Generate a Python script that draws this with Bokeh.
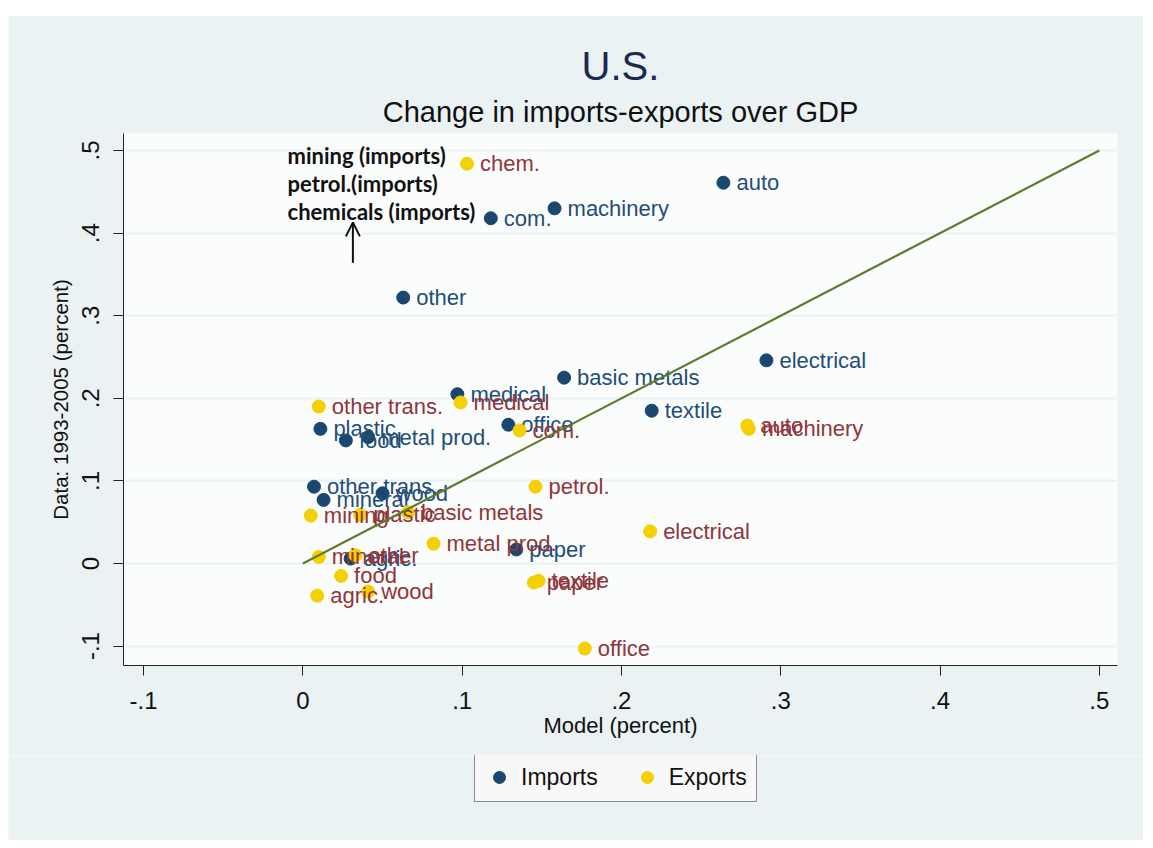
from bokeh.plotting import figure
from bokeh.layouts import column
from bokeh.models import (ColumnDataSource, FixedTicker, Legend, LegendItem, Title,
                          Label, Arrow, OpenHead, Range1d)
from bokeh.core.properties import value
from bokeh.embed import file_html
from bokeh.resources import INLINE

# ---- data ----
imp_names = ["auto", "machinery", "com.", "other", "electrical", "basic metals", "medical",
             "textile", "office", "plastic", "food", "metal prod.", "other trans.", "mineral",
             "wood", "agric.", "paper"]
imp_model = [0.264, 0.158, 0.118, 0.063, 0.291, 0.164, 0.097, 0.219, 0.129, 0.011, 0.027,
             0.041, 0.007, 0.013, 0.050, 0.030, 0.134]
imp_data = [0.461, 0.430, 0.418, 0.322, 0.246, 0.225, 0.205, 0.185, 0.168, 0.163, 0.149,
            0.153, 0.093, 0.077, 0.085, 0.006, 0.017]

exp_names = ["chem.", "other trans.", "medical", "com.", "auto", "machinery", "petrol.",
             "electrical", "basic metals", "plastic", "mining", "metal prod.", "mineral",
             "other", "food", "wood", "agric.", "textile", "paper", "office"]
exp_model = [0.103, 0.010, 0.099, 0.136, 0.279, 0.280, 0.146, 0.218, 0.066, 0.036, 0.005,
             0.082, 0.010, 0.033, 0.024, 0.041, 0.009, 0.148, 0.145, 0.177]
exp_data = [0.484, 0.190, 0.195, 0.161, 0.167, 0.163, 0.093, 0.039, 0.062, 0.059, 0.058,
            0.024, 0.008, 0.010, -0.015, -0.034, -0.039, -0.021, -0.023, -0.103]

fit_x = [0.0, 0.5]
fit_y = [0.0, 0.5]

ticks = [-0.1, 0, 0.1, 0.2, 0.3, 0.4, 0.5]
tick_labels = ["-.1", "0", ".1", ".2", ".3", ".4", ".5"]

note_lines = ["mining (imports)", "petrol.(imports)", "chemicals (imports)"]
note_x = -0.0096
note_y = [0.494, 0.460, 0.426]
arrow_x = 0.0314
arrow_y = [0.364, 0.413]

legend_labels = ["Imports", "Exports"]

# ---- styles ----
IMP_COL = "#1a476f"
EXP_COL = "#f5d000"
IMP_TXT = "#1f4e79"
EXP_TXT = "#90353b"
OUTER = "#eaf2f3"
FONT = "Liberation Sans"

p = figure(width=1135, height=740, output_backend="svg", toolbar_location=None,
           x_range=Range1d(-0.1126, 0.5114), y_range=Range1d(-0.1235, 0.5206),
           min_border_left=115, min_border_right=26, min_border_top=118, min_border_bottom=90)
p.border_fill_color = OUTER
p.background_fill_color = "#fbfcfc"
p.outline_line_color = None
p.title.visible = False

p.add_layout(Title(text="Change in imports-exports over GDP", align="center",
                   text_font=FONT, text_font_size="29px", text_font_style="normal",
                   text_color="#111111", standoff=12), "above")
p.add_layout(Title(text="U.S.", align="center", text_font=FONT, text_font_size="40px",
                   text_font_style="normal", text_color="#1a2a4f", standoff=0), "above")

for ax in (p.xaxis[0], p.yaxis[0]):
    ax.ticker = FixedTicker(ticks=ticks)
    ax.major_label_overrides = {t: l for t, l in zip(ticks, tick_labels)}
    ax.minor_tick_line_color = None
    ax.major_tick_out = 10
    ax.major_tick_in = 0
    ax.axis_line_color = "#222222"
    ax.major_tick_line_color = "#222222"
    ax.major_label_text_font = FONT
    ax.major_label_text_font_size = "24px"
    ax.major_label_text_color = "#111111"
    ax.axis_label_text_font = FONT
    ax.axis_label_text_font_style = "normal"
    ax.axis_label_text_color = "#111111"

p.xaxis.axis_label = "Model (percent)"
p.yaxis.axis_label = "Data: 1993-2005 (percent)"
p.xaxis.axis_label_text_font_size = "22px"
p.yaxis.axis_label_text_font_size = "20.5px"
p.yaxis.major_label_orientation = "vertical"
p.xaxis.major_label_standoff = 16
p.yaxis.major_label_standoff = 14
p.xaxis.axis_label_standoff = 1
p.yaxis.axis_label_standoff = 8

p.xgrid.grid_line_color = None
p.ygrid.ticker = FixedTicker(ticks=ticks)
p.ygrid.grid_line_color = OUTER
p.ygrid.grid_line_width = 2

imp_src = ColumnDataSource(dict(x=imp_model, y=imp_data, name=imp_names))
exp_src = ColumnDataSource(dict(x=exp_model, y=exp_data, name=exp_names))

p.scatter("x", "y", source=imp_src, marker="circle", size=13,
          fill_color=IMP_COL, line_color=IMP_COL)
p.text("x", "y", text="name", source=imp_src, x_offset=13, text_baseline="middle",
       text_font=value(FONT), text_font_size="22px", text_color=IMP_TXT)
p.scatter("x", "y", source=exp_src, marker="circle", size=13,
          fill_color=EXP_COL, line_color=EXP_COL)
p.text("x", "y", text="name", source=exp_src, x_offset=13, text_baseline="middle",
       text_font=value(FONT), text_font_size="22px", text_color=EXP_TXT)

p.line(fit_x, fit_y, line_color="#5c7c2c", line_width=2.2)

for txt, yy in zip(note_lines, note_y):
    p.add_layout(Label(x=note_x, y=yy, text=txt, text_baseline="middle",
                       text_font="Lato", text_font_style="bold", text_font_size="22px",
                       text_color="#111111"))
p.add_layout(Arrow(end=OpenHead(size=14, line_width=2, line_color="#111111"),
                   x_start=arrow_x, y_start=arrow_y[0], x_end=arrow_x, y_end=arrow_y[1],
                   line_width=2, line_color="#111111"))

# ---- legend strip below the chart ----
p2 = figure(width=1135, height=85, output_backend="svg", toolbar_location=None,
            x_range=Range1d(0, 1), y_range=Range1d(0, 1),
            x_axis_location=None, y_axis_location=None,
            min_border_left=0, min_border_right=0, min_border_top=0, min_border_bottom=0)
p2.frame_align = False
p2.border_fill_color = OUTER
p2.background_fill_color = OUTER
p2.outline_line_color = None
p2.grid.grid_line_color = None
p2.title.visible = False
# legend swatches: one point each, placed outside the visible range
l_imp = p2.scatter(x=[-5], y=[-5], marker="circle", size=13, fill_color=IMP_COL, line_color=IMP_COL)
l_exp = p2.scatter(x=[-5], y=[-5], marker="circle", size=13, fill_color=EXP_COL, line_color=EXP_COL)
legend = Legend(items=[LegendItem(label=legend_labels[0], renderers=[l_imp]),
                       LegendItem(label=legend_labels[1], renderers=[l_exp])],
                orientation="horizontal", location=(466, 38),
                label_text_font=FONT, label_text_font_size="23px", label_text_color="#111111",
                border_line_color="#222222", border_line_width=1.5,
                background_fill_color="#f8f8f8", background_fill_alpha=1,
                glyph_width=30, glyph_height=30, label_standoff=7, spacing=34,
                padding=9, margin=0)
p2.add_layout(legend, "center")

root = column(p, p2, spacing=0)
root.margin = (15, 10, 8, 8)

open("out.html", "w").write(file_html(root, INLINE))
